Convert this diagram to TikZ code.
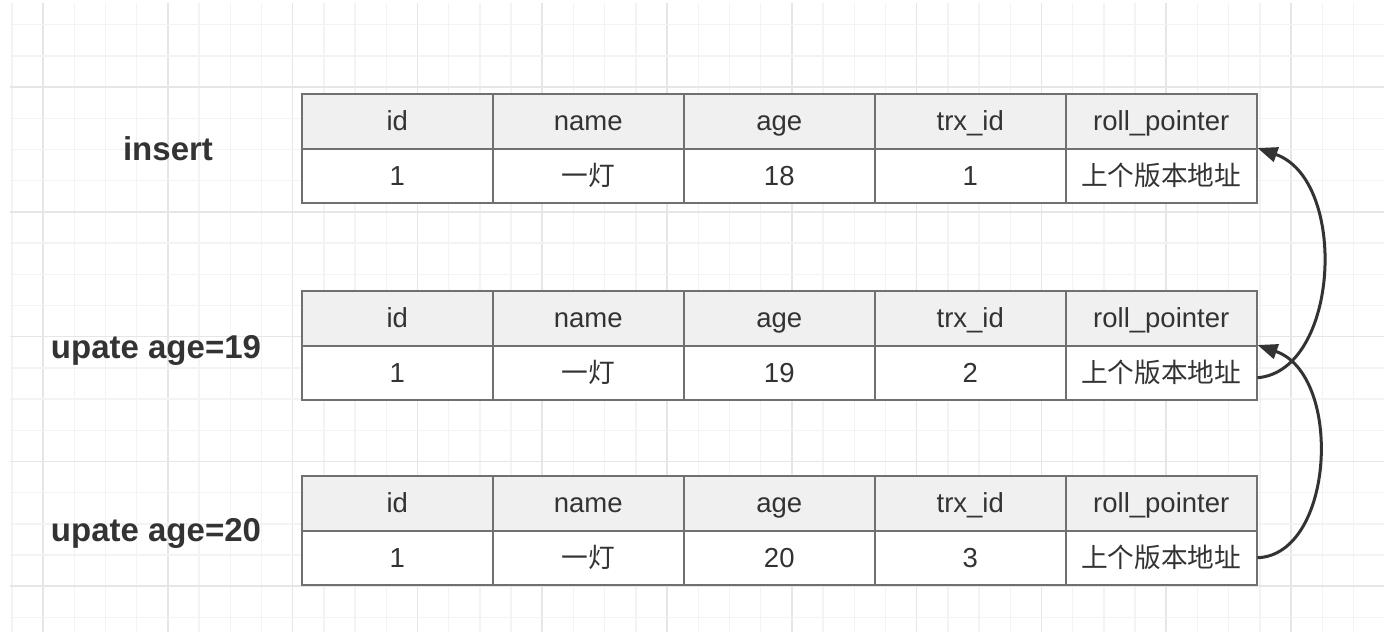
\documentclass[tikz,border=0pt]{standalone}
\usepackage{fontspec}
\setmainfont{Liberation Sans}
\newfontfamily\cjk{Noto Sans CJK SC}
\usetikzlibrary{arrows.meta}

\definecolor{gridminor}{RGB}{243,243,243}
\definecolor{gridmajor}{RGB}{230,230,230}
\definecolor{cellborder}{RGB}{112,112,112}
\definecolor{headfill}{RGB}{240,240,240}
\definecolor{inkgray}{RGB}{51,51,51}

\tikzset{
  cellbase/.style={draw=cellborder, line width=1.5pt, minimum width=191pt,
    inner sep=0pt, anchor=north west, text=inkgray,
    text height=22pt, text depth=3pt,
    font=\fontsize{27.5}{32}\selectfont},
  hcell/.style={cellbase, fill=headfill, minimum height=55pt},
  vcell/.style={cellbase, fill=white, minimum height=54pt},
  oplabel/.style={text=inkgray, font=\bfseries\fontsize{33}{38}\selectfont},
  undoarrow/.style={draw=inkgray, line width=3pt,
    -{Triangle[length=20pt,width=15pt]}},
}

% one version of the row: header line plus value line
\newcommand\versionrow[4]{%
  \node[hcell] (#1h1) at (301,#2) {id};
  \node[hcell] (#1h2) at (492,#2) {name};
  \node[hcell] (#1h3) at (683,#2) {age};
  \node[hcell] (#1h4) at (874,#2) {trx\_id};
  \node[hcell] (#1h5) at (1065,#2) {roll\_pointer};
  \node[vcell] (#1v1) at (301,{#2+55}) {1};
  \node[vcell] (#1v2) at (492,{#2+55}) {\cjk\fontsize{26.7}{32}\selectfont 一灯};
  \node[vcell] (#1v3) at (683,{#2+55}) {#3};
  \node[vcell] (#1v4) at (874,{#2+55}) {#4};
  \node[vcell] (#1v5) at (1065,{#2+55}) {\cjk\fontsize{26.7}{32}\selectfont 上个版本地址};
}

\begin{document}
\begin{tikzpicture}[x=1pt,y=-1pt]
  \useasboundingbox (0,0) rectangle (1384,632);
  \fill[white] (0,0) rectangle (1384,632);

  % background grid
  \foreach \k in {0,...,44} {
    \pgfmathsetmacro\gx{11.8+31.2*\k}
    \pgfmathtruncatemacro\gm{mod(\k,4)}
    \ifnum\gm=1
      \draw[gridmajor, line width=1.6pt] (\gx,3) -- (\gx,632);
    \else
      \draw[gridminor, line width=1.4pt] (\gx,3) -- (\gx,632);
    \fi
  }
  \foreach \k in {0,...,19} {
    \pgfmathsetmacro\gy{24.6+31.2*\k}
    \pgfmathtruncatemacro\gm{mod(\k,4)}
    \ifnum\gm=2
      \draw[gridmajor, line width=1.6pt] (10,\gy) -- (1384,\gy);
    \else
      \draw[gridminor, line width=1.4pt] (10,\gy) -- (1384,\gy);
    \fi
  }

  % operation labels
  \node[oplabel] (op1) at (168,149) {insert};
  \node[oplabel] (op2) at (156,350) {upate age=19};
  \node[oplabel] (op3) at (156,533) {upate age=20};

  % row versions
  \versionrow{t1}{93}{18}{1}
  \versionrow{t2}{290}{19}{2}
  \versionrow{t3}{475}{20}{3}

  % undo log chain
  \draw[undoarrow] ([yshift=-5pt]t2v5.east)
    .. controls +(82,-7) and +(91,32) .. (t1v5.north east);
  \draw[undoarrow] (t3v5.east)
    .. controls +(77,-3) and +(86,30) .. (t2v5.north east);
\end{tikzpicture}
\end{document}
